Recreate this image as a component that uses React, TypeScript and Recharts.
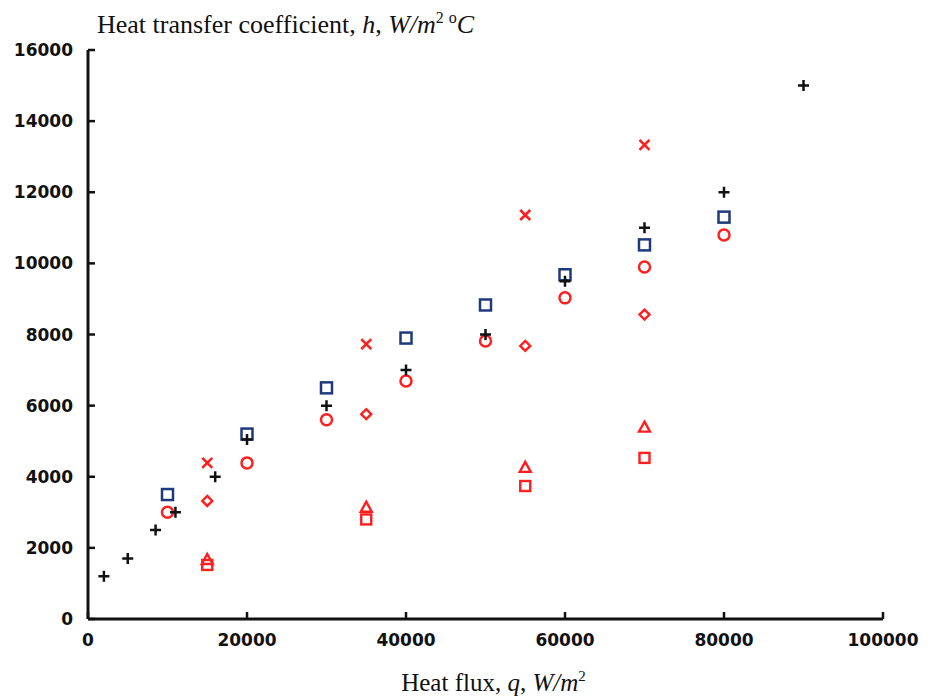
import { ScatterChart, Scatter, XAxis, YAxis, Label } from "recharts";

const X_TICKS = [0, 20000, 40000, 60000, 80000, 100000];
const Y_TICKS = [0, 2000, 4000, 6000, 8000, 10000, 12000, 14000, 16000];

// black plus
const PLUS_Q = [2000, 5000, 8500, 11000, 16000, 20000, 30000, 40000, 50000, 60000, 70000, 80000, 90000];
const PLUS_H = [1200, 1700, 2500, 3000, 4000, 5050, 6000, 7000, 8000, 9500, 11000, 12000, 15000];
// navy open square
const NSQ_Q = [10000, 20000, 30000, 40000, 50000, 60000, 70000, 80000];
const NSQ_H = [3500, 5200, 6500, 7900, 8830, 9680, 10520, 11300];
// red circle
const CIR_Q = [10000, 20000, 30000, 40000, 50000, 60000, 70000, 80000];
const CIR_H = [3000, 4390, 5600, 6690, 7820, 9030, 9900, 10800];
// red cross
const CRS_Q = [15000, 35000, 55000, 70000];
const CRS_H = [4390, 7730, 11360, 13330];
// red diamond
const DIA_Q = [15000, 35000, 55000, 70000];
const DIA_H = [3320, 5760, 7680, 8560];
// red triangle
const TRI_Q = [15000, 35000, 55000, 70000];
const TRI_H = [1660, 3130, 4250, 5380];
// red square
const RSQ_Q = [15000, 35000, 55000, 70000];
const RSQ_H = [1520, 2800, 3740, 4530];

const RED = "#ff1f1f";
const NAVY = "#1f3a7c";

const pts = (q: number[], h: number[]) => q.map((v, i) => ({ q: v, h: h[i] }));

const Plus = ({ cx, cy }: any) => (
  <path d={`M${cx - 5.5},${cy}H${cx + 5.5}M${cx},${cy - 5.5}V${cy + 5.5}`} stroke="#111" strokeWidth={2.5} fill="none" />
);
const NavySquare = ({ cx, cy }: any) => (
  <rect x={cx - 5.5} y={cy - 5.5} width={11} height={11} stroke={NAVY} strokeWidth={2.5} fill="none" />
);
const RedSquare = ({ cx, cy }: any) => (
  <rect x={cx - 5} y={cy - 5} width={10} height={10} stroke={RED} strokeWidth={2.4} fill="none" />
);
const Circle = ({ cx, cy }: any) => (
  <circle cx={cx} cy={cy} r={5.5} stroke={RED} strokeWidth={2.5} fill="none" />
);
const Cross = ({ cx, cy }: any) => (
  <path d={`M${cx - 5},${cy - 5}L${cx + 5},${cy + 5}M${cx + 5},${cy - 5}L${cx - 5},${cy + 5}`} stroke={RED} strokeWidth={2.6} fill="none" />
);
const Diamond = ({ cx, cy }: any) => (
  <path d={`M${cx},${cy - 5}L${cx + 5},${cy}L${cx},${cy + 5}L${cx - 5},${cy}Z`} stroke={RED} strokeWidth={2.4} fill="none" />
);
const Triangle = ({ cx, cy }: any) => (
  <path d={`M${cx},${cy - 6}L${cx + 5.5},${cy + 4}L${cx - 5.5},${cy + 4}Z`} stroke={RED} strokeWidth={2.4} fill="none" />
);

const tickStyle = { fontFamily: "DejaVu Sans", fontWeight: 700, fontSize: 17, fill: "#111" };
const serif = "'Liberation Serif', 'Times New Roman', serif";

const XTitle = ({ viewBox }: any) => (
  <text x={viewBox.x + viewBox.width / 2 + 8} y={viewBox.y + 72} textAnchor="middle" fontFamily={serif} fontSize={25} fill="#111">
    Heat flux, <tspan fontStyle="italic">q</tspan>, <tspan fontStyle="italic">W/m</tspan>
    <tspan fontSize={15} dy={-10}>2</tspan>
  </text>
);

const YTitle = ({ viewBox }: any) => (
  <text x={viewBox.x + viewBox.width + 9} y={viewBox.y - 17} fontFamily={serif} fontSize={26} fill="#111">
    Heat transfer coefficient, <tspan fontStyle="italic">h</tspan>, <tspan fontStyle="italic">W/m</tspan>
    <tspan fontSize={16} dy={-10}>2</tspan>
    <tspan fontSize={16} dx={5}>o</tspan>
    <tspan fontStyle="italic" dy={10}>C</tspan>
  </text>
);

export default function App() {
  return (
    <div style={{ position: "absolute", left: 0, top: 0, width: 936, height: 699, background: "#fff" }}>
      <ScatterChart width={936} height={699} margin={{ top: 50, right: 53, bottom: 50, left: 0 }}>
        <XAxis
          type="number"
          dataKey="q"
          domain={[0, 100000]}
          ticks={X_TICKS}
          interval={0}
          height={30}
          tick={tickStyle}
          tickSize={-7}
          tickMargin={22}
          axisLine={{ stroke: "#111", strokeWidth: 3 }}
          tickLine={{ stroke: "#111", strokeWidth: 2.5 }}
        >
          <Label content={<XTitle />} />
        </XAxis>
        <YAxis
          type="number"
          dataKey="h"
          domain={[0, 16000]}
          ticks={Y_TICKS}
          interval={0}
          width={88}
          tick={tickStyle}
          tickSize={-7}
          tickMargin={22}
          axisLine={{ stroke: "#111", strokeWidth: 3 }}
          tickLine={{ stroke: "#111", strokeWidth: 2.5 }}
        >
          <Label content={<YTitle />} />
        </YAxis>
        <Scatter data={pts(RSQ_Q, RSQ_H)} shape={<RedSquare />} isAnimationActive={false} />
        <Scatter data={pts(TRI_Q, TRI_H)} shape={<Triangle />} isAnimationActive={false} />
        <Scatter data={pts(DIA_Q, DIA_H)} shape={<Diamond />} isAnimationActive={false} />
        <Scatter data={pts(CRS_Q, CRS_H)} shape={<Cross />} isAnimationActive={false} />
        <Scatter data={pts(CIR_Q, CIR_H)} shape={<Circle />} isAnimationActive={false} />
        <Scatter data={pts(NSQ_Q, NSQ_H)} shape={<NavySquare />} isAnimationActive={false} />
        <Scatter data={pts(PLUS_Q, PLUS_H)} shape={<Plus />} isAnimationActive={false} />
      </ScatterChart>
    </div>
  );
}
